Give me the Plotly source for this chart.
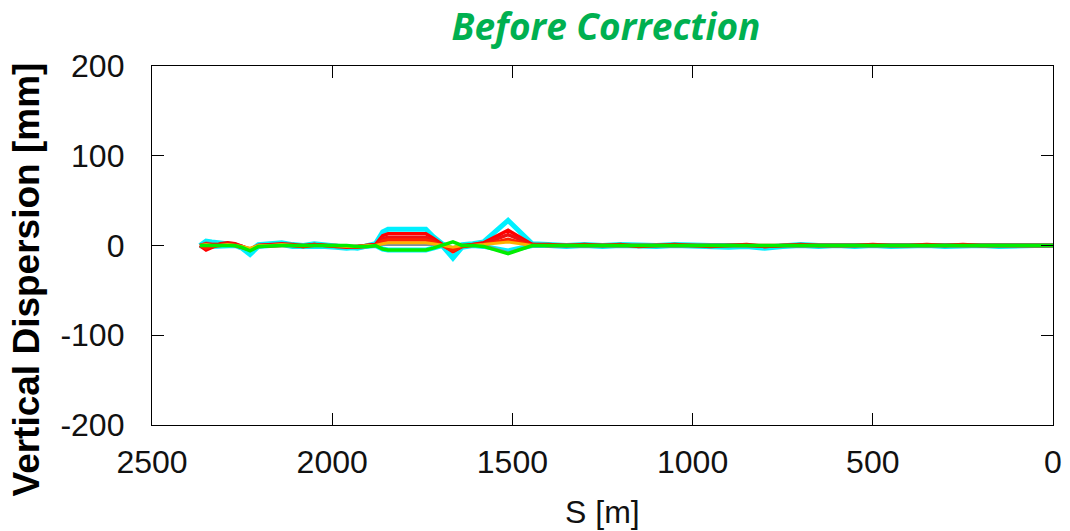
import plotly.graph_objects as go

S = [2367, 2350, 2334, 2310, 2290, 2270, 2250, 2228, 2205, 2170,
     2140, 2110, 2080, 2050, 2020, 1990, 1960, 1930, 1900, 1880,
     1860, 1845, 1790, 1740, 1720, 1695, 1665, 1640, 1610, 1580,
     1512, 1445, 1400, 1350, 1300, 1250, 1200, 1150, 1100, 1050,
     1000, 950, 900, 850, 800, 750, 700, 650, 600, 550,
     500, 450, 400, 350, 300, 250, 200, 150, 100, 50, 0]

cyan_up = [0, 5, 4, 3, 2, 1, -2, -6, 1, 2,
           3, 1, 0, 2, 1, 0, -1, -3, 0, 2,
           15, 18, 18, 18, 10, 2, -4, 1, 2, 4,
           28, 2, 1, 0, 1, 0, 1, 0, 0, 1,
           0, 0, 0, 0, -2, 0, 1, 0, 0, 0,
           1, 0, 0, 1, 0, 0, 0, 0, 0, 0, 0]
cyan_dn = [0, -2, -1, -1, 0, 0, -3, -10, -1, 0,
           1, -1, -1, 0, -1, -2, -3, -2, -1, 0,
           -4, -5, -5, -5, -3, 0, -14, -2, 0, -1,
           -6, 0, 0, -1, 0, -1, 0, -1, -1, 0,
           -1, -1, -2, -1, -3, -1, 0, -1, 0, -1,
           0, -1, 0, 0, -1, 0, 0, -1, 0, 0, 0]
red_1 = [0, -5, -2, 2, 3, 2, -1, -5, 0, 1,
         1, 0, -1, 1, 0, -1, -2, -1, 0, 1,
         11, 13, 13, 13, 8, 1, -7, -1, 1, 3,
         17, 1, 1, 0, 1, 0, 1, -1, 0, 1,
         0, -1, 0, 1, -1, 0, 1, 0, 0, 0,
         1, 0, 0, 1, 0, 1, 0, 0, 0, 0, 0]
red_2 = [0, 2, 1, 1, 2, 1, -1, -4, 0, 1,
         2, 1, 0, 1, 0, 0, -1, -1, 0, 1,
         8, 9, 9, 9, 6, 1, -5, 0, 1, 2,
         12, 1, 0, 0, 0, 0, 0, 0, 0, 0,
         0, 0, 0, 0, -1, 0, 0, 0, 0, 0,
         0, 0, 0, 0, 0, 0, 0, 0, 0, 0, 0]
red_3 = [0, -3, -1, 0, 1, 0, -2, -5, -1, 0,
         0, 0, -1, 0, 0, -1, -1, -2, -1, 0,
         5, 6, 6, 6, 4, 0, -6, -1, 0, 1,
         7, 0, 0, 0, 0, 0, 0, 0, 0, 0,
         0, 0, 0, 0, 0, 0, 0, 0, 0, 0,
         0, 0, 0, 0, 0, 0, 0, 0, 0, 0, 0]
orange = [0, 1, 0, 0, 1, 0, -1, -3, 0, 0,
          1, 0, 0, 0, 0, 0, -1, -1, 0, 0,
          2, 3, 3, 3, 2, 0, -2, 0, 0, 1,
          4, 0, 0, 0, 0, 0, 0, 0, 0, 0,
          0, 0, 0, 0, 0, 0, 0, 0, 0, 0,
          0, 0, 0, 0, 0, 0, 0, 0, 0, 0, 0]
gray = [0, 3, 2, 1, 1, 0, -1, -4, 0, 1,
        1, 0, 0, 1, 0, 0, -1, -2, 0, 0,
        1, 1, 1, 1, 1, 0, -3, 0, 0, 0,
        -8, 0, 0, 0, 0, 0, 0, 0, 0, 0,
        0, 0, 0, 0, -1, 0, 0, 0, 0, 0,
        0, 0, 0, 0, 0, 0, 0, 0, 0, 0, 0]
green = [0, 0, 0, 0, 0, 0, -2, -6, -1, 0,
         0, 0, 0, 0, 0, 0, 0, -1, -1, 0,
         -4, -5, -5, -5, -3, 0, 4, 0, 0, -1,
         -9, 0, 0, 0, 0, 0, 0, 0, 0, 0,
         0, 0, 0, 0, 0, 0, 0, 0, 0, 0,
         0, 0, 0, 0, 0, 0, 0, 0, 0, 0, 0]

x_ticks = [2500, 2000, 1500, 1000, 500, 0]
x_labels = ["2500", "2000", "1500", "1000", "500", "0"]
y_ticks = [-200, -100, 0, 100, 200]
y_labels = ["-200", "-100", "0", "100", "200"]

series = [
    (cyan_up, "#00f0ff", 5),
    (cyan_dn, "#00f0ff", 5),
    (gray, "#8090a0", 3),
    (red_1, "#ff0000", 3.5),
    (red_2, "#ee1010", 3.5),
    (red_3, "#ff2000", 3.5),
    (orange, "#ffb000", 3),
    (green, "#00ee00", 3.5),
]

fig = go.Figure()
for ys, col, w in series:
    fig.add_trace(go.Scatter(x=S, y=ys, mode="lines",
                             line=dict(color=col, width=w), showlegend=False,
                             hoverinfo="skip"))

tickfont = dict(family="Liberation Sans, Arial, sans-serif", size=32, color="#111")
fig.update_layout(
    width=1070, height=531,
    margin=dict(l=152, r=17, t=66, b=106, autoexpand=False),
    paper_bgcolor="white", plot_bgcolor="white",
    title=dict(text="<b><i>Before Correction</i></b>", x=(606 / 1070), xanchor="center",
               y=1 - 27 / 531, yanchor="middle",
               font=dict(family="Open Sans, sans-serif", size=37, color="#00B050")),
    xaxis=dict(range=[2500, 0], tickvals=x_ticks, ticktext=x_labels, ticks="inside",
               ticklen=12, tickcolor="black", mirror="allticks", showline=True,
               linecolor="black", linewidth=1.3, showgrid=False, zeroline=False,
               tickfont=tickfont, ticklabelstandoff=8, automargin=False),
    yaxis=dict(range=[-200, 200], tickvals=y_ticks, ticktext=y_labels, ticks="inside",
               ticklen=12, tickcolor="black", mirror="allticks", showline=True,
               linecolor="black", linewidth=1.3, showgrid=False, zeroline=False,
               tickfont=tickfont, ticklabelstandoff=20, automargin=False),
    annotations=[
        dict(text="<b>Vertical Dispersion [mm]</b>", textangle=-90, xref="paper", yref="paper",
             x=(26 - 152) / 901, y=0.5 - (280 - 246) / 359, xanchor="center", yanchor="middle",
             showarrow=False,
             font=dict(family="Liberation Sans, Arial, sans-serif", size=37, color="black")),
        dict(text="S [m]", xref="paper", yref="paper",
             x=0.5, y=-(512 - 425) / 359, xanchor="center", yanchor="middle",
             showarrow=False,
             font=dict(family="Liberation Sans, Arial, sans-serif", size=32, color="#111")),
    ],
)

fig.write_html("out.html", config={"displayModeBar": False},
               post_script="document.body.style.margin='0';document.body.style.overflow='hidden';")
